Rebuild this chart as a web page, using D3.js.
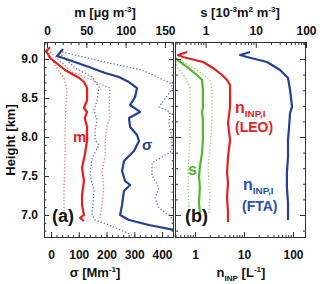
<!DOCTYPE html>
<html>
<head>
<meta charset="utf-8">
<script src="https://cdn.jsdelivr.net/npm/d3@7"></script>
<style>
  body { margin: 0; background: #fff; }
  svg { display: block; }
</style>
</head>
<body>
<svg id="chart" width="320" height="284"></svg>
<script>
// ── data (height in km) ──
// panel (a): mass concentration m [µg m-3] and extinction sigma [Mm-1]
const mH    = [9.15, 9.10, 9.013, 8.962, 8.859, 8.756, 8.705, 8.628, 8.474, 8.372, 8.321, 8.244, 8.128, 7.962, 7.769, 7.603, 7.436, 7.256, 7.128, 7.000, 6.962, 6.923];
const mMid  = [4, -1, 4, 10, 23, 41, 47, 51, 51, 47, 51, 48, 51, 51, 48, 44.5, 47, 44.5, 44.5, 47, 42, 47];
const mLoH  = [9.077, 8.923, 8.756, 8.603, 8.385, 8.128, 7.962, 7.731, 7.346, 7.000];
const mLo   = [2.5, 10, 21.6, 25.4, 24, 23, 23, 23, 21.6, 21.6];
const mHiH  = [9.090, 8.833, 8.731, 8.641, 8.628, 8.385, 8.256, 8.128, 7.962, 7.769, 7.564, 7.346, 7.128, 6.962];
const mHi   = [4, 32, 57, 76, 80, 79, 80, 76, 74, 74, 70, 72, 70, 67];

const sgH   = [9.128, 9.038, 8.987, 8.897, 8.821, 8.769, 8.705, 8.628, 8.513, 8.410, 8.321, 8.244, 8.128, 8.026, 7.949, 7.821, 7.692, 7.564, 7.436, 7.385, 7.308, 7.128, 7.000, 6.936, 6.872, 6.808];
const sgMid = [43, 22, 65, 137, 195, 245, 281, 310, 303, 285, 321, 281, 285, 310, 317, 299, 263, 256, 267, 285, 263, 256, 249, 281, 353, 443];
const sgLoH = [9.077, 8.885, 8.769, 8.641, 8.474, 8.346, 8.218, 8.090, 7.962, 7.897, 7.731, 7.513, 7.308, 7.000, 6.936, 6.872, 6.744];
const sgLo  = [29, 86, 148, 173, 166, 155, 166, 159, 159, 173, 148, 141, 155, 148, 159, 209, 292];
const sgHiH = [9.090, 8.949, 8.859, 8.692, 8.628, 8.385, 8.321, 8.179, 8.000, 7.821, 7.667, 7.513, 7.346, 7.218, 7.090, 6.987, 6.936];
const sgHi  = [40, 209, 328, 429, 440, 389, 429, 425, 436, 436, 364, 364, 389, 375, 389, 429, 440];

// panel (b): surface area s [1e-3 m2 m-3] and INP number n [L-1]
const sH    = [9.013, 8.962, 8.897, 8.795, 8.731, 8.603, 8.385, 8.321, 8.218, 7.962, 7.795, 7.615, 7.500, 7.359, 7.154, 7.026];
const sMid  = [0.25, 0.31, 0.43, 0.675, 0.85, 0.885, 0.885, 0.85, 0.885, 0.885, 0.85, 0.77, 0.74, 0.77, 0.74, 0.77];
const sLoH  = [9.013, 8.897, 8.769, 8.641, 8.385, 7.962, 7.615, 7.321, 7.026];
const sLo   = [0.25, 0.27, 0.39, 0.49, 0.49, 0.49, 0.45, 0.45, 0.47];
const sHiH  = [8.987, 8.859, 8.731, 8.603, 8.179, 7.833, 7.615, 7.231, 7.026];
const sHi   = [0.31, 0.674, 1.22, 1.34, 1.34, 1.22, 1.12, 1.22, 1.17];

const leoH  = [9.090, 9.051, 9.026, 8.962, 8.885, 8.795, 8.731, 8.667, 8.385, 8.179, 7.962, 7.744, 7.538, 7.410, 7.231, 7.026, 6.910];
const leoN  = [0.69, 0.45, 0.57, 1.46, 2.33, 3.55, 4.5, 5.18, 5.18, 4.71, 5.18, 4.71, 4.5, 4.71, 4.5, 4.71, 4.71];
const ftaH  = [9.090, 9.051, 9.026, 8.962, 8.859, 8.756, 8.603, 8.385, 8.308, 8.128, 7.962, 7.744, 7.538, 7.359, 7.154, 6.936];
const ftaN  = [13.3, 8.3, 11.5, 29.5, 54.3, 79, 87, 95.5, 87, 83, 79, 79, 75, 75, 79, 79];

// tick values
const mTicks   = [0, 50, 100, 150];
const sgTicks  = [0, 100, 200, 300, 400];
const logTicks = [1, 10, 100];
const hTicks   = [7.0, 7.5, 8.0, 8.5, 9.0];

// ── layout ──
const FONT = "'Liberation Sans', Arial, sans-serif";
const RED = "#e4201f", BLUE = "#233f98", GREEN = "#55b530";
const RED_L = "#f07070", BLUE_L = "#5c73c4", GREEN_L = "#8fd06a";
const plotTop = 42, plotBottom = 238;
const ax0 = 44, ax1 = 174, bx0 = 175, bx1 = 306;

const svg = d3.select("#chart").attr("font-family", FONT).attr("font-weight", "bold");

const y   = d3.scaleLinear().domain([6.705, 9.218]).range([plotBottom, plotTop]);
const xm  = d3.scaleLinear().domain([-3.8, 161.4]).range([ax0, ax1]);
const xsg = d3.scaleLinear().domain([-25.2, 443.2]).range([ax0, ax1]);
const xs  = d3.scaleLog().domain([0.246, 100]).range([bx0, bx1]);
const xn  = d3.scaleLog().domain([0.39, 184]).range([bx0, bx1]);

const defs = svg.append("defs");
defs.append("clipPath").attr("id", "clipA").append("rect")
  .attr("x", ax0).attr("y", plotTop).attr("width", ax1 - ax0).attr("height", plotBottom - plotTop);
defs.append("clipPath").attr("id", "clipB").append("rect")
  .attr("x", bx0).attr("y", plotTop).attr("width", bx1 - bx0).attr("height", plotBottom - plotTop);

// ── profiles ──
function profile(g, hs, vs, xScale, color, dotted) {
  g.append("path")
    .datum(d3.zip(vs, hs))
    .attr("fill", "none")
    .attr("stroke", color)
    .attr("stroke-width", dotted ? 1.3 : 2.2)
    .attr("stroke-dasharray", dotted ? "1.3,2" : null)
    .attr("stroke-linejoin", "round")
    .attr("d", d3.line().x(d => xScale(d[0])).y(d => y(d[1])));
}

const gA = svg.append("g").attr("clip-path", "url(#clipA)");
profile(gA, mLoH, mLo, xm, RED_L, true);
profile(gA, mHiH, mHi, xm, RED_L, true);
profile(gA, sgLoH, sgLo, xsg, BLUE_L, true);
profile(gA, sgHiH, sgHi, xsg, BLUE_L, true);
profile(gA, mH, mMid, xm, RED, false);
profile(gA, sgH, sgMid, xsg, BLUE, false);

const gB = svg.append("g").attr("clip-path", "url(#clipB)");
profile(gB, sLoH, sLo, xs, GREEN_L, true);
profile(gB, sHiH, sHi, xs, GREEN_L, true);
profile(gB, sH, sMid, xs, GREEN, false);
profile(gB, leoH, leoN, xn, RED, false);
profile(gB, ftaH, ftaN, xn, BLUE, false);

// ── axes ──
function axisG(transform, axis) {
  const g = svg.append("g").attr("transform", transform).call(axis);
  g.select(".domain").remove();
  g.attr("font-family", FONT).attr("font-size", 12).attr("font-weight", "bold");
  g.selectAll("line").attr("stroke", "#333");
  g.selectAll("text").attr("fill", "#111");
  return g;
}

const logMinor = (lo, hi) => d3.range(-1, 3).flatMap(e => d3.range(2, 10).map(k => k * Math.pow(10, e)))
  .filter(v => v > lo && v < hi);
const hMinorA = d3.range(68, 93).map(v => v / 10);
const hMinorB = d3.range(34, 47).map(v => v / 5);

// top m axis
axisG(`translate(0,${plotTop})`, d3.axisTop(xm).tickValues(d3.range(0, 161, 10)).tickSize(-3).tickFormat(""));
axisG(`translate(0,${plotTop})`, d3.axisTop(xm).tickValues(mTicks).tickSize(-6).tickPadding(7));
// bottom sigma axis
axisG(`translate(0,${plotBottom})`, d3.axisBottom(xsg).tickValues(d3.range(0, 441, 20)).tickSize(-3).tickFormat(""));
axisG(`translate(0,${plotBottom})`, d3.axisBottom(xsg).tickValues(sgTicks).tickSize(-6).tickPadding(12));
// top s axis
axisG(`translate(0,${plotTop})`, d3.axisTop(xs).tickValues(logMinor(0.246, 100)).tickSize(-3).tickFormat(""));
axisG(`translate(0,${plotTop})`, d3.axisTop(xs).tickValues(logTicks).tickSize(-6).tickPadding(7).tickFormat(d3.format("d")));
// bottom n axis
axisG(`translate(0,${plotBottom})`, d3.axisBottom(xn).tickValues(logMinor(0.39, 184)).tickSize(-3).tickFormat(""));
axisG(`translate(0,${plotBottom})`, d3.axisBottom(xn).tickValues(logTicks).tickSize(-6).tickPadding(12).tickFormat(d3.format("d")));

// height axes, ticks on every side
axisG(`translate(${ax0},0)`, d3.axisLeft(y).tickValues(hMinorA).tickSize(-2.5).tickFormat(""));
axisG(`translate(${ax0},0)`, d3.axisLeft(y).tickValues(hTicks).tickSize(-5).tickPadding(6).tickFormat(d3.format(".1f")));
axisG(`translate(${ax1},0)`, d3.axisRight(y).tickValues(hMinorA).tickSize(-2.5).tickFormat(""));
axisG(`translate(${ax1},0)`, d3.axisRight(y).tickValues(hTicks).tickSize(-5).tickFormat(""));
axisG(`translate(${bx0},0)`, d3.axisLeft(y).tickValues(hMinorB).tickSize(-3).tickFormat(""));
axisG(`translate(${bx0},0)`, d3.axisLeft(y).tickValues([7, 8, 9]).tickSize(-6).tickFormat(""));
axisG(`translate(${bx1},0)`, d3.axisRight(y).tickValues(hMinorB).tickSize(-3).tickFormat(""));
axisG(`translate(${bx1},0)`, d3.axisRight(y).tickValues([7, 8, 9]).tickSize(-6).tickFormat(""));

// frames
[[ax0, ax1], [bx0, bx1]].forEach(([x0, x1]) => {
  svg.append("rect")
    .attr("x", x0 + 0.5).attr("y", plotTop + 0.5)
    .attr("width", x1 - x0 - 1).attr("height", plotBottom - plotTop - 1)
    .attr("fill", "none").attr("stroke", "#333").attr("stroke-width", 1);
});

// ── titles ──
function richText(x, yy, anchor, parts, size, color) {
  const t = svg.append("text").attr("x", x).attr("y", yy)
    .attr("text-anchor", anchor).attr("font-size", size).attr("fill", color || "#111");
  let shift = 0;
  parts.forEach(([str, kind]) => {
    const want = kind === "sup" ? -5 : kind === "sub" ? 4 : 0;
    t.append("tspan")
      .attr("dy", want - shift)
      .attr("font-size", kind ? size * 0.62 : size)
      .text(str);
    shift = want;
  });
  return t;
}

richText(105, 17, "middle", [["m [µg m"], ["-3", "sup"], ["]"]], 13);
richText(240, 17, "middle", [["s [10"], ["-3", "sup"], ["m"], ["2", "sup"], [" m"], ["-3", "sup"], ["]"]], 13);
richText(95, 277, "middle", [["σ [Mm"], ["-1", "sup"], ["]"]], 13);
richText(241, 277, "middle", [["n"], ["INP", "sub"], ["  [L"], ["-1", "sup"], ["]"]], 13);

svg.append("text")
  .attr("transform", `translate(15,${(plotTop + plotBottom) / 2}) rotate(-90)`)
  .attr("text-anchor", "middle").attr("font-size", 13).attr("fill", "#111")
  .text("Height [km]");

// ── in-panel labels ──
svg.append("text").attr("x", xm(33)).attr("y", y(7.936)).attr("font-size", 15).attr("fill", RED).text("m");
svg.append("text").attr("x", xsg(328)).attr("y", y(7.833)).attr("font-size", 15).attr("fill", BLUE).text("σ");
svg.append("text").attr("x", xm(6.4)).attr("y", y(6.91)).attr("font-size", 18).attr("fill", "#111").text("(a)");
svg.append("text").attr("x", xn(0.625)).attr("y", y(6.91)).attr("font-size", 18).attr("fill", "#111").text("(b)");
svg.append("text").attr("x", xn(0.72)).attr("y", y(7.513)).attr("font-size", 16).attr("fill", GREEN).text("s");

richText(xn(6.55), y(8.308), "start", [["n"], ["INP,I", "sub"]], 16, RED);
svg.append("text").attr("x", xn(6.55)).attr("y", y(8.064)).attr("font-size", 14).attr("fill", RED).text("(LEO)");
richText(xn(9.54), y(7.321), "start", [["n"], ["INP,I", "sub"]], 16, "#2b50ad");
svg.append("text").attr("x", xn(9.1)).attr("y", y(7.051)).attr("font-size", 14).attr("fill", "#2b50ad").text("(FTA)");
</script>
</body>
</html>
